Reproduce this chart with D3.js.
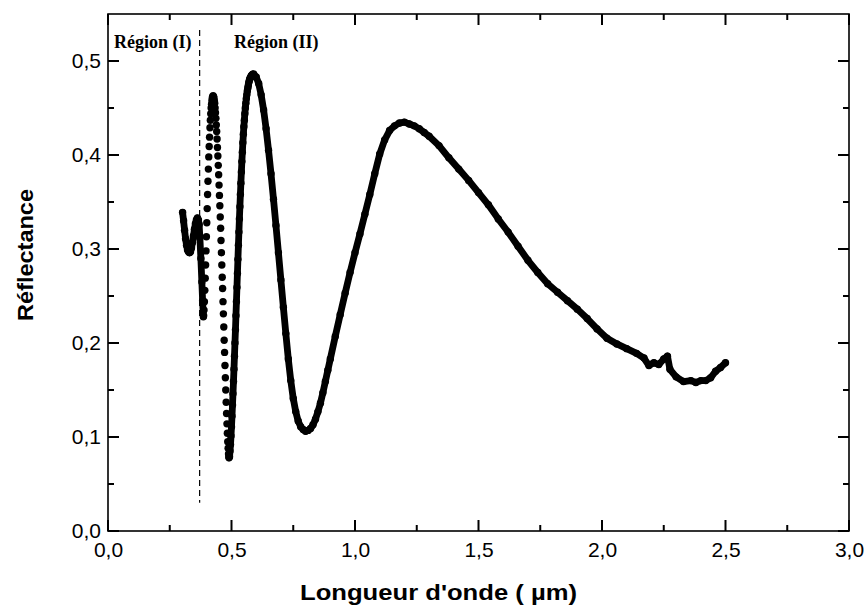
<!DOCTYPE html>
<html>
<head>
<meta charset="utf-8">
<script src="https://cdnjs.cloudflare.com/ajax/libs/d3/7.8.5/d3.min.js"></script>
<style>
  body { margin: 0; background: #fff; }
  svg { display: block; }
  .axis path { display: none; }
  .axis text { font-family: "Liberation Sans", Arial, sans-serif; font-size: 21px; fill: #000; }
</style>
</head>
<body>
<svg id="chart" width="866" height="605"></svg>
<script>
// Region (I) : short U-shaped part, measured below 0.386 um
var wlRegion1 = [0.302, 0.306, 0.310, 0.314, 0.318, 0.322, 0.326, 0.330, 0.334, 0.338, 0.342,
  0.346, 0.350, 0.354, 0.358, 0.362, 0.366, 0.369, 0.372, 0.376, 0.380, 0.383, 0.386];
var rRegion1 = [0.339, 0.330, 0.320, 0.311, 0.304, 0.299, 0.297, 0.296, 0.297, 0.301, 0.307,
  0.314, 0.321, 0.327, 0.331, 0.333, 0.331, 0.326, 0.312, 0.290, 0.265, 0.245, 0.228];

// first fast oscillation (0.387 - 0.490 um), points far apart -> separate dots
var wlOsc = [0.3872, 0.3888, 0.3904, 0.3920, 0.3936, 0.3952, 0.3968, 0.3984, 0.4000, 0.4016,
  0.4032, 0.4048, 0.4064, 0.4080, 0.4096, 0.4112, 0.4128, 0.4144, 0.4160, 0.4176, 0.4192,
  0.4208, 0.4224, 0.4240, 0.4256, 0.4272, 0.4288, 0.4304, 0.4320, 0.4336, 0.4352, 0.4368,
  0.4384, 0.4400, 0.4416, 0.4432, 0.4448, 0.4464, 0.4480, 0.4496, 0.4512, 0.4528, 0.4544,
  0.4560, 0.4576, 0.4592, 0.4608, 0.4624, 0.4640, 0.4656, 0.4672, 0.4688, 0.4704, 0.4720,
  0.4736, 0.4752, 0.4768, 0.4784, 0.4800, 0.4816, 0.4832, 0.4848, 0.4864, 0.4880, 0.4896];
var rOsc = [0.229, 0.235, 0.244, 0.256, 0.269, 0.283, 0.298, 0.313, 0.328, 0.343,
  0.358, 0.372, 0.385, 0.398, 0.409, 0.419, 0.429, 0.437, 0.444, 0.450, 0.454,
  0.458, 0.461, 0.462, 0.463, 0.462, 0.461, 0.458, 0.455, 0.450, 0.445, 0.439,
  0.432, 0.425, 0.417, 0.408, 0.399, 0.389, 0.379, 0.368, 0.357, 0.346, 0.334,
  0.322, 0.309, 0.296, 0.283, 0.270, 0.258, 0.244, 0.231, 0.217, 0.203, 0.190,
  0.176, 0.163, 0.150, 0.137, 0.125, 0.114, 0.104, 0.095, 0.088, 0.082, 0.079];

// rest of the spectrum (from the 0.49 um minimum), dense enough to look like a thick line
var wlMain = [0.490, 0.492, 0.494, 0.496, 0.498, 0.500, 0.502, 0.504, 0.506, 0.508, 0.510,
  0.512, 0.514, 0.516, 0.518, 0.520, 0.522, 0.524, 0.526, 0.528, 0.530, 0.532, 0.534, 0.536,
  0.538, 0.540, 0.542, 0.544, 0.546, 0.548, 0.550, 0.552, 0.554, 0.556, 0.558, 0.560, 0.562,
  0.564, 0.566, 0.568, 0.570, 0.572, 0.574, 0.576, 0.578, 0.580, 0.582, 0.584, 0.586, 0.588,
  0.590, 0.600, 0.610, 0.620, 0.630, 0.640, 0.650, 0.660, 0.670, 0.680, 0.690, 0.700,
  0.710, 0.720, 0.730, 0.740, 0.750, 0.760, 0.770, 0.780, 0.790, 0.800, 0.810, 0.820, 0.830,
  0.840, 0.850, 0.860, 0.870, 0.880, 0.890, 0.900, 0.920, 0.940, 0.960, 0.980, 1.000, 1.020,
  1.040, 1.060, 1.080, 1.100, 1.120, 1.140, 1.160, 1.180, 1.200, 1.220, 1.240, 1.260, 1.280,
  1.300, 1.340, 1.380, 1.420, 1.460, 1.500, 1.540, 1.580, 1.620, 1.660, 1.700, 1.740, 1.780,
  1.820, 1.860, 1.900, 1.940, 1.980, 2.020, 2.060, 2.100, 2.140, 2.170, 2.190, 2.210, 2.230,
  2.250, 2.265, 2.275, 2.300, 2.330, 2.360, 2.380, 2.400, 2.420, 2.440, 2.460, 2.480, 2.500];
var rMain = [0.078, 0.079, 0.085, 0.092, 0.101, 0.111, 0.122, 0.134, 0.146, 0.159, 0.172,
  0.186, 0.200, 0.214, 0.229, 0.244, 0.259, 0.274, 0.289, 0.304, 0.318, 0.332, 0.345, 0.358,
  0.370, 0.382, 0.393, 0.403, 0.413, 0.422, 0.430, 0.437, 0.444, 0.450, 0.455, 0.460, 0.464,
  0.468, 0.471, 0.474, 0.477, 0.479, 0.481, 0.482, 0.483, 0.484, 0.485, 0.485, 0.486, 0.486,
  0.486, 0.483, 0.476, 0.464, 0.448, 0.428, 0.405, 0.380, 0.353, 0.325, 0.296, 0.267,
  0.238, 0.210, 0.183, 0.160, 0.141, 0.127, 0.117, 0.111, 0.108, 0.106, 0.107, 0.109, 0.113,
  0.119, 0.127, 0.136, 0.147, 0.159, 0.171, 0.183, 0.207, 0.230, 0.253, 0.275, 0.296, 0.316,
  0.337, 0.358, 0.380, 0.401, 0.416, 0.426, 0.431, 0.434, 0.435, 0.433, 0.431, 0.428, 0.424,
  0.420, 0.410, 0.397, 0.385, 0.373, 0.360, 0.347, 0.332, 0.318, 0.303, 0.288, 0.275, 0.263,
  0.254, 0.245, 0.236, 0.226, 0.215, 0.205, 0.199, 0.194, 0.189, 0.184, 0.176, 0.179, 0.177,
  0.183, 0.186, 0.172, 0.164, 0.159, 0.160, 0.158, 0.160, 0.160, 0.163, 0.170, 0.174, 0.179];

var xMajor = [0, 0.5, 1.0, 1.5, 2.0, 2.5, 3.0];
var xMinor = [0.25, 0.75, 1.25, 1.75, 2.25, 2.75];
var yMajor = [0, 0.1, 0.2, 0.3, 0.4, 0.5];
var yMinor = [0.05, 0.15, 0.25, 0.35, 0.45];
var regionSplit = 0.371;

var svg = d3.select('#chart');
var plotL = 108, plotR = 849, plotT = 14, plotB = 531;

var x = d3.scaleLinear().domain([0, 3]).range([plotL, plotR]);
var y = d3.scaleLinear().domain([0, 0.55]).range([plotB, plotT]);

var fmt = function (d) { return d3.format('.1f')(d).replace('.', ','); };

svg.append('rect')
  .attr('x', plotL).attr('y', plotT)
  .attr('width', plotR - plotL).attr('height', plotB - plotT)
  .style('fill', 'none').style('stroke', '#000').style('stroke-width', 1.6);

// tick labels from d3 axes (tick lines drawn below)
svg.append('g').attr('class', 'axis').attr('transform', `translate(0,${plotB})`)
  .call(d3.axisBottom(x).tickValues(xMajor).tickSize(0).tickPadding(11).tickFormat(fmt));
svg.append('g').attr('class', 'axis').attr('transform', `translate(${plotL},0)`)
  .call(d3.axisLeft(y).tickValues(yMajor).tickSize(0).tickPadding(7).tickFormat(fmt));

// inward tick marks on the four sides
var ticks = svg.append('g').attr('class', 'ticks');
function xTicks(vals, len) {
  [[plotB, -1], [plotT, 1]].forEach(function (s) {
    ticks.selectAll(null).data(vals).enter().append('line')
      .attr('x1', function (d) { return x(d); }).attr('x2', function (d) { return x(d); })
      .attr('y1', s[0]).attr('y2', s[0] + s[1] * len)
      .attr('stroke', '#000').attr('stroke-width', 2);
  });
}
function yTicks(vals, len) {
  [[plotL, 1], [plotR, -1]].forEach(function (s) {
    ticks.selectAll(null).data(vals).enter().append('line')
      .attr('y1', function (d) { return y(d); }).attr('y2', function (d) { return y(d); })
      .attr('x1', s[0]).attr('x2', s[0] + s[1] * len)
      .attr('stroke', '#000').attr('stroke-width', 2);
  });
}
xTicks(xMajor, 11);
xTicks(xMinor, 6);
yTicks(yMajor, 11);
yTicks(yMinor, 6);

// dashed separation between the two regions
svg.append('line')
  .attr('x1', x(regionSplit)).attr('x2', x(regionSplit))
  .attr('y1', y(0.533)).attr('y2', y(0.03))
  .style('stroke', '#000').style('stroke-width', 1.2)
  .style('stroke-dasharray', '6,4');

function pts(wl, r) {
  return wl.map(function (d, i) { return [d, r[i]]; });
}
var line = d3.line().x(function (d) { return x(d[0]); }).y(function (d) { return y(d[1]); });

[pts(wlRegion1, rRegion1), pts(wlMain, rMain)].forEach(function (p) {
  svg.append('path')
    .attr('d', line(p))
    .style('fill', 'none').style('stroke', '#000')
    .style('stroke-width', 6.8)
    .style('stroke-linejoin', 'round').style('stroke-linecap', 'round');
});

var allPts = pts(wlRegion1, rRegion1).concat(pts(wlOsc, rOsc), pts(wlMain, rMain));
svg.append('g').selectAll('circle')
  .data(allPts)
  .join('circle')
  .attr('cx', function (d) { return x(d[0]); })
  .attr('cy', function (d) { return y(d[1]); })
  .attr('r', 3.7)
  .style('fill', '#000');

// region labels
svg.append('text').attr('x', 114).attr('y', 48)
  .text('Région (I)')
  .style('font-family', '"Liberation Serif", "Times New Roman", serif')
  .style('font-weight', 'bold').style('font-size', '18px');
svg.append('text').attr('x', 234).attr('y', 48)
  .text('Région (II)')
  .style('font-family', '"Liberation Serif", "Times New Roman", serif')
  .style('font-weight', 'bold').style('font-size', '18px');

// axis titles
svg.append('text').attr('x', 300).attr('y', 600)
  .attr('textLength', 277).attr('lengthAdjust', 'spacingAndGlyphs')
  .text("Longueur d'onde ( µm)")
  .style('font-family', '"Liberation Sans", Arial, sans-serif')
  .style('font-weight', 'bold').style('font-size', '22px');

svg.append('text')
  .attr('transform', 'translate(33,255) rotate(-90)')
  .attr('text-anchor', 'middle')
  .attr('textLength', 132).attr('lengthAdjust', 'spacingAndGlyphs')
  .text('Réflectance')
  .style('font-family', '"Liberation Sans", Arial, sans-serif')
  .style('font-weight', 'bold').style('font-size', '22px');
</script>
</body>
</html>
